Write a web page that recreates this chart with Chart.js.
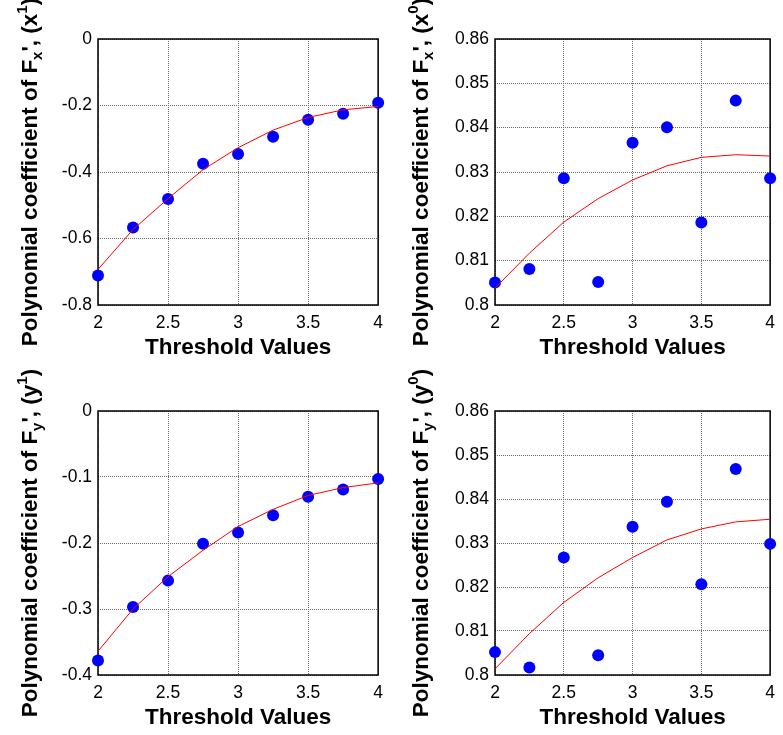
<!DOCTYPE html>
<html>
<head>
<meta charset="utf-8">
<script src="https://cdn.jsdelivr.net/npm/chart.js@4.4.0/dist/chart.umd.min.js"></script>
<style>
html,body{margin:0;padding:0;background:#fff;}
body{width:783px;height:735px;position:relative;overflow:hidden;}
canvas{position:absolute;display:block;}
</style>
</head>
<body>
<canvas id="c1" width="391" height="368" style="left:0;top:0"></canvas>
<canvas id="c2" width="392" height="368" style="left:391px;top:0"></canvas>
<canvas id="c3" width="391" height="367" style="left:0;top:368px"></canvas>
<canvas id="c4" width="392" height="367" style="left:391px;top:368px"></canvas>
<script>
// ---------- data ----------
const thresholds = [2, 2.25, 2.5, 2.75, 3, 3.25, 3.5, 3.75, 4];

const fxX1Points = [-0.711, -0.567, -0.481, -0.375, -0.346, -0.294, -0.243, -0.225, -0.192];
const fxX1Fit    = [-0.693, -0.573, -0.480, -0.393, -0.327, -0.274, -0.236, -0.213, -0.203];

const fxX0Points = [0.8051, 0.8081, 0.8286, 0.8052, 0.8366, 0.8401, 0.8186, 0.8461, 0.8286];
const fxX0Fit    = [0.8038, 0.8117, 0.8187, 0.8240, 0.8282, 0.8314, 0.8333, 0.8339, 0.8336];

const fyY1Points = [-0.378, -0.297, -0.257, -0.201, -0.184, -0.158, -0.130, -0.119, -0.103];
const fyY1Fit    = [-0.364, -0.300, -0.251, -0.211, -0.175, -0.149, -0.128, -0.116, -0.109];

const fyY0Points = [0.8052, 0.8017, 0.8267, 0.8045, 0.8337, 0.8394, 0.8206, 0.8468, 0.8298];
const fyY0Fit    = [0.8014, 0.8094, 0.8165, 0.8221, 0.8267, 0.8307, 0.8332, 0.8348, 0.8354];

const xTickValues = [2, 2.5, 3, 3.5, 4];
const xTickLabels = ['2', '2.5', '3', '3.5', '4'];

const yTicksX1 = [-0.8, -0.6, -0.4, -0.2, 0];
const yLabelsX1 = ['-0.8', '-0.6', '-0.4', '-0.2', '0'];
const yTicksY1 = [-0.4, -0.3, -0.2, -0.1, 0];
const yLabelsY1 = ['-0.4', '-0.3', '-0.2', '-0.1', '0'];
const yTicksC0 = [0.8, 0.81, 0.82, 0.83, 0.84, 0.85, 0.86];
const yLabelsC0 = ['0.8', '0.81', '0.82', '0.83', '0.84', '0.85', '0.86'];

const xTitle = 'Threshold Values';
const yTitleParts = {
  x1: [['Polynomial coefficient of F',''],['x','sub'],["', (x",''],['1','sup'],[')','']],
  x0: [['Polynomial coefficient of F',''],['x','sub'],["', (x",''],['0','sup'],[')','']],
  y1: [['Polynomial coefficient of F',''],['y','sub'],["', (y",''],['1','sup'],[')','']],
  y0: [['Polynomial coefficient of F',''],['y','sub'],["', (y",''],['0','sup'],[')','']]
};

// ---------- drawing ----------
const FONT = "'Liberation Sans', Arial, sans-serif";

const framePlugin = {
  id: 'frameAndTitle',
  beforeDatasetsDraw(chart) {
    const {ctx, chartArea: a} = chart;
    ctx.save();
    ctx.strokeStyle = '#000';
    ctx.lineWidth = 1.5;
    ctx.strokeRect(a.left, a.top, a.right - a.left, a.bottom - a.top);
    ctx.restore();
  },
  afterDraw(chart) {
    const opts = chart.options.plugins.frameAndTitle;
    const parts = opts.parts;
    const {ctx, chartArea: a} = chart;
    const main = 'bold 22.5px ' + FONT;
    const small = 'bold 15px ' + FONT;
    ctx.save();
    ctx.fillStyle = '#000';
    ctx.textBaseline = 'alphabetic';
    ctx.textAlign = 'left';
    let total = 0;
    const widths = parts.map(([t, k]) => {
      ctx.font = k ? small : main;
      const w = ctx.measureText(t).width;
      total += w;
      return w;
    });
    ctx.translate(opts.x, (a.top + a.bottom) / 2);
    ctx.rotate(-Math.PI / 2);
    let pos = -total / 2;
    parts.forEach(([t, k], i) => {
      ctx.font = k ? small : main;
      const dy = k === 'sub' ? 5 : (k === 'sup' ? -10 : 0);
      ctx.fillText(t, pos, dy);
      pos += widths[i];
    });
    ctx.restore();
  }
};

function makeChart(id, pts, fit, yTicks, yLabels, parts, cfg) {
  const fitData = thresholds.map((x, i) => ({x, y: fit[i]}));
  const ptData = thresholds.map((x, i) => ({x, y: pts[i]}));
  return new Chart(document.getElementById(id), {
    type: 'scatter',
    data: {
      datasets: [
        {data: fitData, showLine: true, borderColor: '#ff0000', borderWidth: 1,
         pointRadius: 0, tension: 0, fill: false},
        {data: ptData, pointRadius: 6, pointHoverRadius: 6, backgroundColor: '#0000ff',
         borderWidth: 0, pointBorderWidth: 0, clip: false}
      ]
    },
    options: {
      responsive: false,
      animation: false,
      events: [],
      layout: {padding: cfg.pad},
      plugins: {
        legend: {display: false},
        tooltip: {enabled: false},
        frameAndTitle: {parts, x: cfg.titleX}
      },
      scales: {
        x: {
          type: 'linear', min: 2, max: 4,
          afterBuildTicks: s => { s.ticks = xTickValues.map(v => ({value: v})); },
          afterFit: s => { s.height = cfg.xH; },
          ticks: {
            autoSkip: false, maxRotation: 0, padding: 8, color: '#000',
            font: {family: FONT, size: 17.5},
            callback: (v, i) => xTickLabels[i]
          },
          grid: {color: '#6a6a6a', lineWidth: 1, drawTicks: false},
          border: {display: false, dash: [1, 1]},
          title: {display: true, text: xTitle, color: '#000',
                  font: {family: FONT, size: 22.5, weight: 'bold'}, padding: 0}
        },
        y: {
          type: 'linear', min: yTicks[0], max: yTicks[yTicks.length - 1],
          afterBuildTicks: s => { s.ticks = yTicks.map(v => ({value: v})); },
          afterFit: s => { s.width = cfg.yW; },
          ticks: {
            autoSkip: false, padding: 6, color: '#000',
            font: {family: FONT, size: 17.5},
            callback: (v, i) => yLabels[i]
          },
          grid: {color: '#6a6a6a', lineWidth: 1, drawTicks: false},
          border: {display: false, dash: [1, 1]}
        }
      }
    },
    plugins: [framePlugin]
  });
}

makeChart('c1', fxX1Points, fxX1Fit, yTicksX1, yLabelsX1, yTitleParts.x1,
  {pad: {left: 0, top: 39, right: 10, bottom: 6.5}, xH: 56.5, yW: 98, titleX: 37});
makeChart('c2', fxX0Points, fxX0Fit, yTicksC0, yLabelsC0, yTitleParts.x0,
  {pad: {left: 0, top: 39, right: 6, bottom: 6.5}, xH: 56.5, yW: 104, titleX: 37});
makeChart('c3', fyY1Points, fyY1Fit, yTicksY1, yLabelsY1, yTitleParts.y1,
  {pad: {left: 0, top: 43, right: 10, bottom: 3.5}, xH: 56.5, yW: 98, titleX: 37});
makeChart('c4', fyY0Points, fyY0Fit, yTicksC0, yLabelsC0, yTitleParts.y0,
  {pad: {left: 0, top: 43, right: 6, bottom: 3.5}, xH: 56.5, yW: 104, titleX: 37});
</script>
</body>
</html>
